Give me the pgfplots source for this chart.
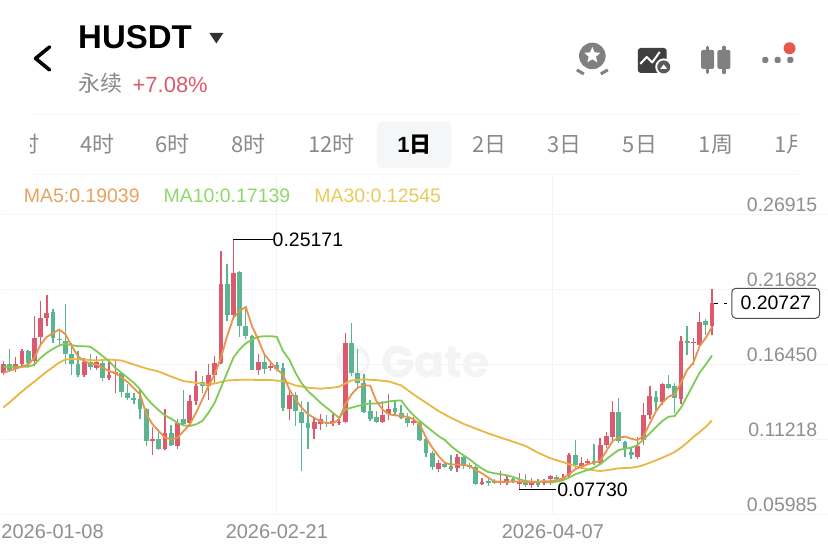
\documentclass[border=0pt]{standalone}
\usepackage{fontspec}
\usepackage{pgfplots}
\usepackage{pgfplotstable}
\pgfplotsset{compat=1.18}
\usetikzlibrary{shapes.geometric}
\setmainfont{Liberation Sans}
\newfontfamily\cjk{Noto Sans CJK SC}
\newfontfamily\pop{Poppins}
\definecolor{candR}{HTML}{DC5A6E}
\definecolor{candG}{HTML}{5CB590}
\definecolor{maA}{HTML}{E9944A}
\definecolor{maB}{HTML}{7FCB55}
\definecolor{maC}{HTML}{E8B844}
\definecolor{gridc}{HTML}{F4F4F4}
\definecolor{tabgray}{HTML}{8A8A8A}
\definecolor{ticktxt}{HTML}{8F8F8F}
\definecolor{dotred}{HTML}{E8584A}
\definecolor{tabbg}{HTML}{F5F6F8}
\definecolor{legA}{HTML}{E8A25E}
\definecolor{legB}{HTML}{8FD96B}
\definecolor{legC}{HTML}{E9CB5C}
\definecolor{wm}{HTML}{F3F4F5}
\pgfplotstableread{
i high top bot low
0 .1669 .1652 .1583 .1571
2 .1699 .1652 .1615 .1592
3 .1750 .1741 .1652 .1638
5 .1987 .1831 .1669 .1634
6 .2089 .1969 .1838 .1785
7 .2131 .2006 .1969 .1913
13 .1692 .1662 .1573 .1559
15 .1703 .1662 .1624 .1606
17 .1669 .1569 .1552 .1536
18 .1671 .1592 .1578 .1448
24 .1206 .1122 .1113 .1011
26 .1332 .1164 .1053 .1050
28 .1262 .1234 .1076 .1053
30 .1429 .1392 .1234 .1215
31 .1599 .1494 .1392 .1359
33 .1652 .1569 .1494 .1397
34 .1703 .1657 .1569 .1513
35 .2438 .2208 .1657 .1648
37 .25171 .2285 .1994 .1959
41 .1715 .1662 .1606 .1569
43 .1662 .1634 .1622 .1601
46 .1459 .1431 .1331 .1257
50 .1273 .1243 .1197 .1127
51 .1297 .1262 .1227 .1187
53 .1297 .1250 .1238 .1215
54 .1273 .1245 .1238 .1220
55 .1866 .1797 .1243 .1238
61 .1390 .1290 .1243 .1238
62 .1436 .1336 .1297 .1257
66 .1280 .1250 .1238 .1220
70 .0978 .0955 .0918 .0894
73 .1018 .1001 .0922 .0894
77 .0855 .0825 .0813 .0806
80 .0901 .0832 .0820 .0806
81 .0871 .0843 .0820 .0806
83 .0885 .0832 .0808 .0773
85 .0855 .0829 .0801 .0783
87 .0848 .0834 .0815 .0801
88 .0876 .0866 .0843 .0806
90 .0878 .0852 .0838 .0829
91 .1029 .1015 .0871 .0862
93 .1001 .0959 .0936 .0917
94 .0987 .0973 .0955 .0945
96 .1134 .1080 .0955 .0945
97 .1173 .1145 .1080 .1064
98 .1389 .1313 .1141 .1099
102 .1141 .1076 .1001 .0983
103 .1373 .1289 .1117 .1080
104 .1494 .1424 .1289 .1262
106 .1517 .1506 .1382 .1359
109 .1847 .1806 .1406 .1366
111 .1831 .1801 .1792 .1645
112 .2015 .1945 .1778 .1761
114 .2173 .20727 .1917 .1854
}\redc
\pgfplotstableread{
i high top bot low
1 .1755 .1652 .1610 .1592
4 .1745 .1741 .1657 .1638
8 .2034 .2010 .1831 .1792
9 .1878 .1820 .1815 .1778
10 .2066 .1806 .1715 .1652
11 .1792 .1715 .1652 .1569
12 .1738 .1652 .1573 .1559
14 .1717 .1662 .1629 .1610
16 .1669 .1657 .1552 .1527
19 .1592 .1583 .1452 .1415
20 .1506 .1448 .1413 .1397
21 .1443 .1413 .1397 .1366
22 .1471 .1401 .1332 .1266
23 .1343 .1332 .1111 .1076
25 .1192 .1122 .1053 .1050
27 .1225 .1169 .1080 .1076
29 .1466 .1262 .1229 .1215
32 .1564 .1522 .1494 .1448
36 .2350 .2208 .1994 .1948
38 .2296 .2289 .1913 .1838
39 .2041 .1913 .1843 .1824
40 .1848 .1843 .1610 .1606
42 .1715 .1662 .1615 .1578
44 .1662 .1645 .1615 .1599
45 .1657 .1622 .1343 .1320
47 .1452 .1429 .1318 .1215
48 .1390 .1313 .1234 .0901
49 .1383 .1234 .1199 .1057
52 .1292 .1245 .1238 .1211
56 .1936 .1797 .1587 .1564
57 .1755 .1583 .1513 .1490
58 .1576 .1513 .1313 .1308
59 .1397 .1318 .1266 .1250
60 .1320 .1280 .1243 .1234
63 .1390 .1343 .1313 .1290
64 .1359 .1308 .1273 .1262
65 .1308 .1271 .1234 .1211
67 .1243 .1227 .1118 .1111
68 .1134 .1127 .1025 .1001
69 .1041 .1025 .0932 .0908
71 .0964 .0950 .0932 .0922
72 .1011 .0936 .0913 .0904
74 .1006 .1001 .0936 .0918
75 .0955 .0946 .0927 .0918
76 .0941 .0932 .0811 .0806
78 .0843 .0829 .0820 .0797
79 .0848 .0829 .0820 .0808
82 .0855 .0843 .0829 .0820
84 .0878 .0834 .0801 .0787
86 .0843 .0834 .0801 .0787
89 .0871 .0862 .0843 .0829
92 .1117 .1010 .0945 .0924
95 .1089 .0969 .0955 .0945
99 .1413 .1313 .1113 .1099
100 .1110 .1106 .1052 .0996
101 .1064 .1034 .1010 .0987
105 .1459 .1420 .1382 .1313
107 .1575 .1506 .1480 .1471
108 .1513 .1494 .1413 .1308
110 .1917 .1810 .1792 .1708
113 .1964 .1947 .1924 .1854
}\greenc
\pgfplotstableread{
i v
0 .1587
2 .1615
4 .1645
5 .1692
6 .1785
7 .1838
9 .1890
10 .1855
11 .1773
12 .1703
13 .1669
14 .1652
15 .1645
16 .1622
17 .1599
18 .1587
20 .1522
22 .1436
23 .1297
24 .1227
25 .1180
26 .1134
27 .1122
28 .1134
29 .1180
30 .1227
31 .1308
32 .1401
33 .1494
34 .1576
35 .1692
36 .1843
37 .1971
38 .2017
39 .2048
40 .1913
41 .1820
42 .1715
43 .1662
44 .1610
45 .1576
46 .1471
47 .1401
48 .1343
49 .1297
50 .1273
51 .1250
52 .1234
53 .1234
54 .1262
55 .1366
56 .1436
57 .1483
58 .1499
59 .1499
60 .1390
61 .1331
62 .1297
63 .1290
64 .1285
65 .1280
66 .1262
67 .1227
68 .1134
69 .1064
70 .1006
71 .0959
72 .0946
73 .0946
74 .0946
75 .0936
76 .0908
77 .0885
78 .0855
79 .0829
80 .0825
81 .0825
82 .0829
83 .0827
84 .0825
85 .0825
86 .0825
87 .0829
88 .0829
89 .0838
90 .0848
91 .0878
92 .0913
93 .0931
94 .0948
95 .0959
96 .0971
97 .1041
98 .1110
99 .1134
100 .1141
101 .1127
102 .1117
103 .1145
104 .1234
105 .1320
106 .1378
107 .1420
108 .1436
109 .1517
110 .1606
111 .1657
112 .1773
113 .1831
114 .1908
}\maFive
\pgfplotstableread{
i v
0 .1629
2 .1629
4 .1629
5 .1645
6 .1692
7 .1727
8 .1755
9 .1778
10 .1790
11 .1780
12 .1773
13 .1773
14 .1769
15 .1738
16 .1703
17 .1669
18 .1622
19 .1587
20 .1552
21 .1517
22 .1471
23 .1413
24 .1366
25 .1325
26 .1290
27 .1266
28 .1238
29 .1220
30 .1215
31 .1227
32 .1250
33 .1308
34 .1378
35 .1483
36 .1587
37 .1692
38 .1750
39 .1792
40 .1820
41 .1838
42 .1843
43 .1843
44 .1838
45 .1738
46 .1680
47 .1587
48 .1513
49 .1459
50 .1420
51 .1378
52 .1343
53 .1308
54 .1273
55 .1331
56 .1343
57 .1355
58 .1366
59 .1373
60 .1373
61 .1378
62 .1387
63 .1392
64 .1394
65 .1336
66 .1290
67 .1250
68 .1215
69 .1180
70 .1145
71 .1118
72 .1076
73 .1041
74 .1011
75 .0983
76 .0948
77 .0918
78 .0894
79 .0885
80 .0878
81 .0871
82 .0860
83 .0843
84 .0832
85 .0825
86 .0825
87 .0829
88 .0820
89 .0827
90 .0836
91 .0855
92 .0878
93 .0894
94 .0908
95 .0924
96 .0948
97 .0983
98 .1017
99 .1048
100 .1057
101 .1064
102 .1082
103 .1122
104 .1164
105 .1208
106 .1250
107 .1280
108 .1285
109 .1343
110 .1424
111 .1506
112 .1587
113 .1645
114 .1708
}\maTen
\pgfplotstableread{
i v
0 .1345
1 .1380
3 .1457
5 .1526
7 .1596
9 .1659
10 .1680
11 .1683
13 .1680
15 .1673
17 .1680
19 .1673
21 .1645
23 .1617
25 .1596
27 .1561
29 .1529
31 .1517
33 .1505
34 .1512
36 .1533
38 .1538
40 .1538
43 .1536
45 .1529
47 .1499
49 .1483
51 .1476
53 .1483
54 .1490
55 .1513
56 .1534
58 .1541
60 .1536
62 .1527
64 .1499
66 .1436
68 .1378
70 .1320
72 .1273
74 .1231
76 .1197
78 .1164
80 .1134
82 .1106
84 .1076
86 .1029
88 .0990
89 .0976
90 .0964
91 .0948
92 .0936
93 .0924
94 .0913
95 .0906
96 .0901
97 .0906
98 .0913
99 .0920
100 .0922
101 .0924
102 .0931
103 .0943
104 .0959
105 .0976
106 .0994
107 .1013
108 .1034
109 .1064
110 .1099
111 .1138
112 .1173
113 .1210
114 .12545
}\maThirty
\begin{document}
\begin{tikzpicture}
\begin{scope}[x=1pt,y=-1pt]
\useasboundingbox (0,0) rectangle (828,550);
\fill[white] (0,0) rectangle (828,550);
% header
\node[anchor=base west,inner sep=0,font=\bfseries\fontsize{33}{33}\selectfont] at (77.5,49) {HUSDT};
\fill[black!80] (209,33) -- (223,33) -- (216,43.5) -- cycle;
\draw[line width=3.6pt,line join=round,line cap=round] (49,47) -- (35,58.5) -- (49,70);
\node[anchor=base west,inner sep=0,text=tabgray,font=\cjk\fontsize{22}{22}\selectfont] at (78,92) {永续};
\node[anchor=base west,inner sep=0,text=candR,font=\fontsize{22}{22}\selectfont] at (132,93) {+7.08\%};
% icons
\fill[black!50] (592.5,56) circle (13.3);
\node[star,star points=5,star point ratio=2.2,fill=white,inner sep=0,minimum size=17pt] at (592.5,55.5) {};
\draw[black!50,line width=3pt] (577,70) -- (584,74);
\draw[black!50,line width=3pt] (608,70) -- (601,74);
\fill[black!75,rounded corners=3pt] (638,48) rectangle (667,73);
\draw[white,line width=2pt,line join=round] (640.5,64) -- (647,57) -- (652.5,62.5) -- (660,52);
\fill[white] (664,67) circle (8.5);
\fill[black!65] (664,67) circle (6.5);
\fill[white] (660.5,69) -- (667.5,69) -- (664,64.5) -- cycle;
\foreach \cx in {708,724.3}{
  \draw[black!50,line width=3.6pt,line cap=round] (\cx,47.5) -- (\cx,72.5);
  \fill[black!50,rounded corners=2pt] (\cx-6.5,50) rectangle (\cx+6.5,69);
}
\foreach \cx in {765.7,778,790.7}{ \fill[black!50,rounded corners=1.5pt] (\cx-3,57) rectangle (\cx+3,63); }
\fill[dotred] (790,48.3) circle (6);
% separators
\draw[gridc,line width=1pt] (32,115) -- (798,115);
\draw[gridc,line width=1pt] (32,175) -- (798,175);
\fill[tabbg,rounded corners=6pt] (377,122) rectangle (451,168);
% tabs
\begin{scope}
\clip (30,118) rectangle (797,172);
\foreach \tx/\tt in {17/时,80/4时,155/6时,231/8时,308/12时,472/2日,547/3日,623/5日,699/1周,775/1月}{
  \node[anchor=base west,inner sep=0,text=tabgray,font=\fontsize{22}{22}\selectfont] at (\tx,153) {\cjk\tt};
}
\end{scope}
\node[anchor=base west,inner sep=0,text=black,font=\bfseries\fontsize{22}{22}\selectfont] at (397,153) {1\cjk\bfseries 日};
% watermark
\fill[wm] (353,362) circle (16.5);
\fill[white] (358,362) circle (9);
\node[anchor=base west,inner sep=0,text=wm,font=\pop\bfseries\fontsize{44}{44}\selectfont] at (381,378) {Gate};
\end{scope}
\begin{axis}[
  at={(0pt,-515pt)},anchor=south west,
  width=828pt,height=339pt,scale only axis,
  xmin=-0.4337,xmax=132.58,ymin=0.05985,ymax=0.29635,
  clip=false,
  axis line style={draw=none},
  major tick length=0pt,
  grid=major,
  major grid style={gridc,line width=1pt},
  xtick={44,88.4},
  xticklabels={2026-02-21,2026-04-07},
  xticklabel style={anchor=base,inner sep=0pt,yshift=-24pt,text=ticktxt,font=\fontsize{20}{20}\selectfont},
  ytick={0.05985,0.11218,0.16450,0.21682,0.26915},
  yticklabels={0.05985,0.11218,0.16450,0.21682,0.26915},
  yticklabel pos=right,
  yticklabel style={anchor=base east,inner sep=0pt,xshift=-10pt,yshift=3pt,text=ticktxt,font=\fontsize{19.5}{20}\selectfont},
]
% wicks
\addplot[draw=none,mark=none,forget plot,error bars/.cd,y dir=plus,y explicit,error mark=none,error bar style={candR,line width=1.4pt}]
  table[x=i,y=low,y error plus expr=\thisrow{high}-\thisrow{low}]{\redc};
\addplot[draw=none,mark=none,forget plot,error bars/.cd,y dir=plus,y explicit,error mark=none,error bar style={candG,line width=1.4pt}]
  table[x=i,y=low,y error plus expr=\thisrow{high}-\thisrow{low}]{\greenc};
% bodies
\addplot[draw=none,mark=none,forget plot,error bars/.cd,y dir=plus,y explicit,error mark=none,error bar style={candR,line width=4.8pt}]
  table[x=i,y=bot,y error plus expr=\thisrow{top}-\thisrow{bot}]{\redc};
\addplot[draw=none,mark=none,forget plot,error bars/.cd,y dir=plus,y explicit,error mark=none,error bar style={candG,line width=4.8pt}]
  table[x=i,y=bot,y error plus expr=\thisrow{top}-\thisrow{bot}]{\greenc};
% moving averages
\addplot[maC,line width=1.8pt,line join=round,no marks] table[x=i,y=v]{\maThirty};
\addplot[maB,line width=1.8pt,line join=round,no marks] table[x=i,y=v]{\maTen};
\addplot[maA,line width=1.8pt,line join=round,no marks] table[x=i,y=v]{\maFive};
% extremes and last price
\addplot[black,line width=1.2pt,no marks] coordinates {(37,0.25171)(43.3,0.25171)};
\addplot[black,line width=1.2pt,no marks] coordinates {(83,0.07730)(88.9,0.07730)};
\node[anchor=west,inner sep=0,font=\fontsize{19.5}{20}\selectfont] at (axis cs:43.3,0.25130) {0.25171};
\node[anchor=west,inner sep=0,font=\fontsize{19.5}{20}\selectfont] at (axis cs:89.1,0.07700) {0.07730};
\node[inner sep=0,text=ticktxt,font=\fontsize{20}{20}\selectfont,anchor=base,yshift=-24pt] at (axis cs:7.92,0.05985) {2026-01-08};
\addplot[black,line width=1pt,no marks,dash pattern=on 3.5pt off 6pt] coordinates {(114.4,0.20727)(117.1,0.20727)};
\node[draw=black!70,line width=1pt,rounded corners=4pt,fill=white,minimum width=88pt,minimum height=30pt,inner sep=0,font=\fontsize{19.5}{20}\selectfont] at (axis cs:124.25,0.20727) {0.20727};
\end{axis}
\begin{scope}[x=1pt,y=-1pt]
% legend, over the vertical grid lines
\node[anchor=base west,inner sep=0,text=legA,font=\fontsize{19.5}{20}\selectfont] at (23,203) {MA5:0.19039};
\node[anchor=base west,inner sep=0,text=legB,font=\fontsize{19.5}{20}\selectfont] at (163,203) {MA10:0.17139};
\node[anchor=base west,inner sep=0,text=legC,font=\fontsize{19.5}{20}\selectfont] at (314,203) {MA30:0.12545};
\end{scope}
\end{tikzpicture}
\end{document}
